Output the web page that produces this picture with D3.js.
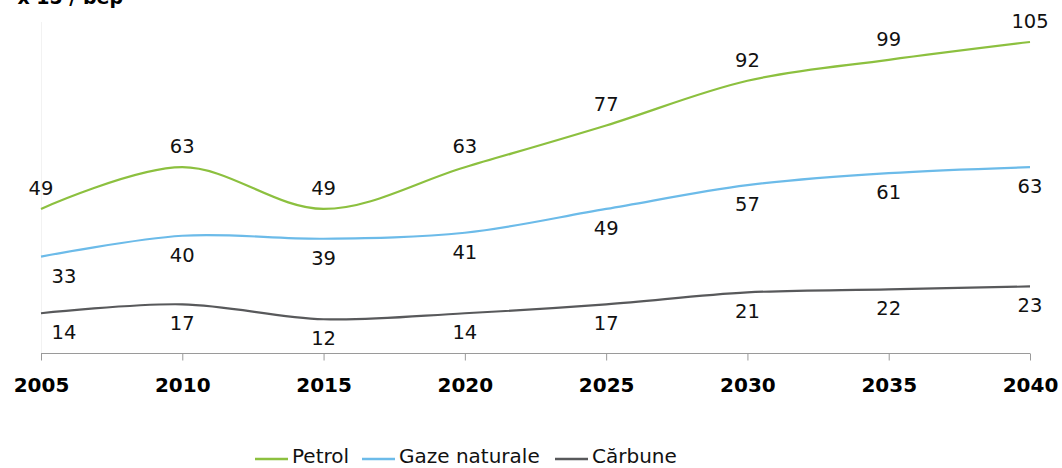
<!DOCTYPE html>
<html>
<head>
<meta charset="utf-8">
<script src="https://cdn.jsdelivr.net/npm/d3@7"></script>
<style>
  body { margin: 0; background: #fff; }
  svg { display: block; font-family: "DejaVu Sans", Verdana, sans-serif; }
</style>
</head>
<body>
<svg width="1062" height="468"></svg>
<script>
const years = [2005, 2010, 2015, 2020, 2025, 2030, 2035, 2040]
const petrol = [49, 63, 49, 63, 77, 92, 99, 105]
const gaze = [33, 40, 39, 41, 49, 57, 61, 63]
const carbune = [14, 17, 12, 14, 17, 21, 22, 23]
const seriesNames = ["Petrol", "Gaze naturale", "Cărbune"]
const unitLabel = "x 15 / bep"

const series = [
    {name: seriesNames[0], values: petrol, color: "#8cc03f", labelPos: "above"},
    {name: seriesNames[1], values: gaze, color: "#6cbbe9", labelPos: "below"},
    {name: seriesNames[2], values: carbune, color: "#58595b", labelPos: "below"}
]

const svg = d3.select("svg")
const font = "'DejaVu Sans', Verdana, sans-serif"

// scales
const x = d3.scalePoint().domain(years).range([41, 1030])
const y = d3.scaleLinear().domain([0, 105]).range([355, 42])

// faint value axis
svg.append("line")
    .attr("x1", 41.5).attr("x2", 41.5)
    .attr("y1", 22).attr("y2", 353)
    .attr("stroke", "#f2f2f2")

// category axis (font set after the call, d3 overrides it otherwise)
const xAxis = svg.append("g")
    .attr("transform", "translate(0,353.5)")
    .call(d3.axisBottom(x).tickSize(7).tickPadding(17))
    .attr("font-family", font)
    .attr("font-size", 20)
xAxis.select(".domain").attr("stroke", "#9a9a9a").attr("d", "M41,0H1030")
xAxis.selectAll(".tick line").attr("stroke", "#9a9a9a")
xAxis.selectAll(".tick text")
    .attr("fill", "#000")
    .style("font-weight", "bold")

// unit label, cut off at the top
svg.append("text")
    .attr("x", 123).attr("y", 4)
    .attr("text-anchor", "end")
    .style("font-size", "19px")
    .style("font-weight", "bold")
    .text(unitLabel)

// smoothed lines
const line = d3.line()
    .x((d, i) => x(years[i]))
    .y(d => y(d))
    .curve(d3.curveCatmullRom.alpha(0.5))

svg.append("g")
    .selectAll("path")
    .data(series)
    .join("path")
    .attr("d", s => line(s.values))
    .attr("fill", "none")
    .attr("stroke", s => s.color)
    .attr("stroke-width", 2.2)

// data labels
series.forEach(s => {
    svg.append("g")
        .selectAll("text")
        .data(s.values)
        .join("text")
        .attr("x", (d, i) => x(years[i]) + (s.labelPos === "below" && i === 0 ? 23 : 0))
        .attr("y", d => y(d) + (s.labelPos === "above" ? -14 : 26))
        .attr("text-anchor", "middle")
        .style("font-size", "19.5px")
        .attr("fill", "#111")
        .text(d => d)
})

// legend
const legendX = [255, 362, 555]
const legend = svg.append("g")
    .selectAll("g")
    .data(series)
    .join("g")
    .attr("transform", (s, i) => `translate(${legendX[i]},459)`)
legend.append("line")
    .attr("x1", 0).attr("x2", 33)
    .attr("stroke", s => s.color)
    .attr("stroke-width", 2.5)
legend.append("text")
    .attr("x", 37).attr("y", 4)
    .style("font-size", "20px")
    .attr("fill", "#111")
    .text(s => s.name)
</script>
</body>
</html>
